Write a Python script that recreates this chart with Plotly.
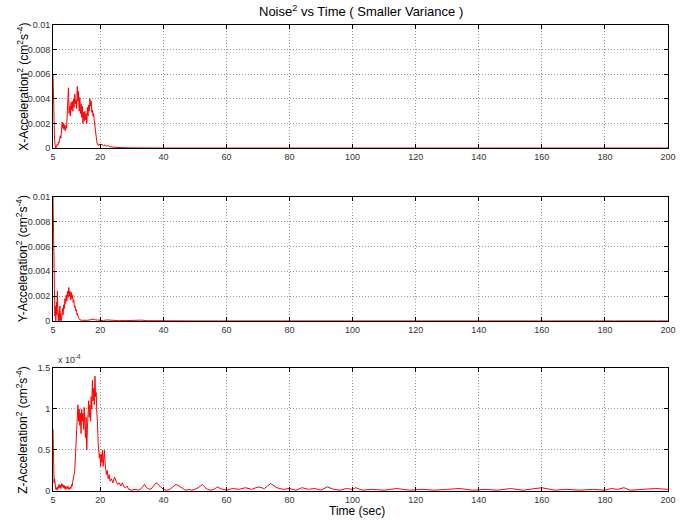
import plotly.graph_objects as go

# ---------------- data ----------------
# X-acceleration noise^2, values in units of 1e-3
x_time = [5.0, 5.1, 5.2, 5.35, 5.5, 5.7, 5.9, 6.1, 6.3, 6.5, 6.7, 6.9, 7.1, 7.3, 7.5, 7.7, 7.9,
          8.1, 8.3, 8.5, 8.7, 8.9, 9.1, 9.3, 9.5, 9.7, 9.9, 10.1, 10.3, 10.5, 10.7, 10.9,
          11.1, 11.3, 11.5, 11.7, 11.9, 12.1, 12.3, 12.5, 12.7, 12.9, 13.1, 13.3, 13.5,
          13.7, 13.9, 14.1, 14.3, 14.5, 14.7, 14.9, 15.1, 15.3, 15.5, 15.7, 15.9, 16.1,
          16.3, 16.5, 16.7, 16.9, 17.1, 17.3, 17.5, 17.7, 17.9, 18.1, 18.3, 18.5, 18.7,
          18.9, 19.1, 19.3, 19.5, 19.7, 20.0, 20.5, 21.0, 21.5, 22.0, 22.5, 23.0, 23.5,
          24.0, 25.0, 26.0, 28.0, 30.0, 35.0, 40.0, 200.0]
x_noise_e3 = [6.0, 4.5, 2.0, 1.2, 0.6, 0.2, 0.0, 0.1, 0.3, 0.2, 0.5, 0.4, 0.7, 1.0, 0.8, 1.4, 2.1,
              1.6, 2.0, 1.5, 1.9, 1.4, 1.8, 1.6, 2.6, 3.2, 4.9, 2.8, 3.4, 2.6, 3.7, 3.1,
              3.8, 3.0, 4.0, 3.3, 4.4, 3.6, 3.9, 3.2, 5.0, 3.8, 4.6, 3.0, 4.1,
              2.8, 3.6, 2.5, 3.4, 2.0, 2.9, 2.2, 3.0, 2.3, 2.8, 2.0, 3.3, 2.6,
              3.5, 3.0, 4.0, 3.4, 3.8, 2.9, 3.1, 2.6, 2.8, 2.2, 1.6, 1.2, 0.7,
              0.5, 0.3, 0.35, 0.2, 0.3, 0.25, 0.3, 0.2, 0.25, 0.15, 0.2, 0.1, 0.12,
              0.08, 0.05, 0.03, 0.02, 0.01, 0.005, 0.0, 0.0]

# Y-acceleration noise^2, values in units of 1e-3
y_time = [5.0, 5.05, 5.1, 5.15, 5.2, 5.3, 5.4, 5.5, 5.6, 5.7, 5.8, 5.9, 6.0, 6.1, 6.2, 6.3,
          6.4, 6.5, 6.6, 6.7, 6.8, 6.9, 7.0, 7.1, 7.2, 7.3, 7.4, 7.5, 7.6, 7.8, 8.0, 8.2,
          8.4, 8.6, 8.8, 9.0, 9.2, 9.4, 9.6, 9.8, 10.0, 10.2, 10.4, 10.6, 10.8, 11.0,
          11.2, 11.4, 11.6, 11.8, 12.0, 12.2, 12.4, 12.6, 12.8, 13.0, 13.2, 13.5, 14.0,
          15.0, 16.0, 17.0, 17.7, 18.5, 19.5, 21.0, 22.0, 24.0, 26.0, 28.0, 30.0, 32.0,
          33.0, 35.0, 40.0, 50.0, 200.0]
y_noise_e3 = [10.0, 9.0, 8.6, 6.0, 5.5, 3.0, 2.0, 1.0, 0.4, 1.2, 0.3, 0.0, 0.8, 1.5, 0.5, 2.2,
              2.4, 1.2, 0.4, 0.0, 0.6, 0.2, 0.0, 0.9, 1.2, 0.4, 0.1, 0.6, 0.0, 0.3, 1.0, 0.5,
              1.3, 1.0, 1.8, 1.4, 2.1, 1.6, 2.4, 1.9, 2.7, 2.0, 2.4, 1.7, 2.3, 1.8,
              2.1, 1.5, 1.7, 1.1, 1.2, 0.8, 0.9, 0.5, 0.6, 0.3, 0.2, 0.1, 0.05,
              0.03, 0.05, 0.1, 0.15, 0.08, 0.05, 0.03, 0.08, 0.04, 0.02, 0.03, 0.05, 0.1,
              0.06, 0.02, 0.01, 0.0, 0.0]

# Z-acceleration noise^2, values in units of 1e-4
z_time = [5.0, 5.1, 5.2, 5.35, 5.5, 5.7, 5.9, 6.1, 6.3, 6.5, 6.7, 6.9, 7.1, 7.3, 7.5, 7.7,
          7.9, 8.1, 8.3, 8.5, 8.7, 8.9, 9.1, 9.3, 9.5, 9.7, 9.9, 10.1, 10.3, 10.5, 10.7,
          10.9, 11.1, 11.3, 11.5, 11.7, 11.9, 12.1, 12.3, 12.5, 12.7, 12.9, 13.1, 13.3,
          13.5, 13.7, 13.9, 14.1, 14.3, 14.5, 14.7, 14.9, 15.1, 15.3, 15.5, 15.7, 15.9,
          16.1, 16.3, 16.5, 16.7, 16.9, 17.1, 17.3, 17.5, 17.7, 17.9, 18.1, 18.3, 18.5,
          18.7, 18.9, 19.1, 19.3, 19.5, 19.7, 19.9, 20.1, 20.3, 20.5, 20.7, 20.9, 21.1,
          21.3, 21.5, 21.7, 21.9, 22.2, 22.5, 22.8, 23.1, 23.5, 24.0, 24.5, 25.0, 25.5,
          26.0, 26.5, 27.0, 27.5, 28.0, 28.5, 29.0, 30, 31, 32, 33, 34, 34.5, 35, 36, 37,
          37.7, 38.3, 39, 40, 41, 42, 43, 44, 45, 46, 47, 48, 49, 50, 51, 52.4, 53, 54,
          55, 56, 57.2, 58, 59, 60, 62, 64, 66, 68, 70, 72, 74, 75, 76, 78, 80, 82, 84,
          86, 88, 90, 92, 94, 96, 98, 100, 101, 103, 106, 110, 114, 118, 122, 126, 130,
          134, 138, 142, 146, 150, 154, 158, 160, 164, 168, 172, 176, 180, 182, 184, 186,
          188, 192, 196, 200]
z_noise_e4 = [0.75, 0.5, 0.2, 0.1, 0.15, 0.05, 0.02, 0.04, 0.01, 0.05, 0.03, 0.08, 0.04, 0.07,
              0.03, 0.09, 0.05, 0.08, 0.04, 0.07, 0.03, 0.06, 0.02, 0.05, 0.03, 0.06, 0.02,
              0.04, 0.02, 0.05, 0.03, 0.08, 0.06, 0.12, 0.15, 0.2, 0.25, 0.45, 0.55, 0.75,
              0.95, 1.05, 0.85, 1.0, 0.8, 0.95, 0.7, 1.0, 0.85, 0.95, 0.75, 1.02, 0.8, 0.65,
              0.9, 0.5, 0.75, 0.95, 1.1, 0.9, 1.05, 0.85, 1.15, 1.0, 1.35, 1.1, 1.25, 1.05,
              1.4, 1.15, 1.2, 0.95, 0.85, 0.6, 0.5, 0.4, 0.45, 0.3, 0.45, 0.35, 0.5, 0.3,
              0.4, 0.5, 0.35, 0.3, 0.2, 0.25, 0.15, 0.2, 0.12, 0.15, 0.1, 0.17, 0.12, 0.08,
              0.1, 0.06, 0.1, 0.05, 0.04, 0.06, 0.02, 0.01, 0.02, 0.01, 0.03, 0.08, 0.05,
              0.03, 0.02, 0.06, 0.1, 0.08, 0.05, 0.02, 0.01, 0.02, 0.05, 0.08, 0.06, 0.03,
              0.01, 0.02, 0.01, 0.02, 0.04, 0.08, 0.05, 0.02, 0.01, 0.02, 0.05, 0.03, 0.02,
              0.01, 0.03, 0.02, 0.04, 0.02, 0.05, 0.03, 0.09, 0.07, 0.04, 0.02, 0.03, 0.01,
              0.04, 0.02, 0.03, 0.01, 0.05, 0.02, 0.01, 0.03, 0.02, 0.04, 0.01, 0.02, 0.01,
              0.03, 0.01, 0.02, 0.01, 0.02, 0.03, 0.01, 0.02, 0.01, 0.03, 0.01, 0.03, 0.04,
              0.01, 0.02, 0.01, 0.02, 0.01, 0.03, 0.02, 0.04, 0.01, 0.02, 0.03, 0.02]

x_tickvals = [5, 20, 40, 60, 80, 100, 120, 140, 160, 180, 200]
x_ticktext = ["5", "20", "40", "60", "80", "100", "120", "140", "160", "180", "200"]
y_tickvals_e3 = [0, 2, 4, 6, 8, 10]
y_ticktext = ["0", "0.002", "0.004", "0.006", "0.008", "0.01"]
z_tickvals = [0, 0.5, 1, 1.5]
z_ticktext = ["0", "0.5", "1", "1.5"]

title_text = "Noise<sup>2</sup> vs Time ( Smaller Variance )"
ylabels = ["X-Acceleration<sup>2</sup> (cm<sup>2</sup>s<sup>-4</sup>)",
           "Y-Acceleration<sup>2</sup> (cm<sup>2</sup>s<sup>-4</sup>)",
           "Z-Acceleration<sup>2</sup> (cm<sup>2</sup>s<sup>-4</sup>)"]
xlabel = "Time (sec)"

# ---------------- figure ----------------
FONT = "Liberation Sans, Arial, sans-serif"
fig = go.Figure()
series = [(x_time, x_noise_e3), (y_time, y_noise_e3), (z_time, z_noise_e4)]
for i, (t, v) in enumerate(series):
    suffix = "" if i == 0 else str(i + 1)
    fig.add_trace(go.Scatter(x=t, y=v, mode="lines", line=dict(color="#ff0000", width=1),
                             xaxis="x" + suffix, yaxis="y" + suffix, showlegend=False,
                             hoverinfo="skip"))

domains = [[0.736, 1.0], [0.365, 0.631], [0.0, 0.264]]
common_axis = dict(showline=True, linecolor="black", linewidth=1, mirror="ticks",
                   ticks="inside", ticklen=4, tickcolor="black",
                   showgrid=True, gridcolor="#9a9a9a", griddash="1px,2px", gridwidth=1,
                   zeroline=False, tickfont=dict(family=FONT, size=9, color="#333333"))
layout = dict(width=688, height=520, margin=dict(l=53, r=17, t=25, b=29),
              plot_bgcolor="white", paper_bgcolor="white", showlegend=False,
              font=dict(family=FONT))
for i in range(3):
    suffix = "" if i == 0 else str(i + 1)
    layout["xaxis" + suffix] = dict(common_axis, domain=[0, 1], range=[5, 200],
                                    tickmode="array", tickvals=x_tickvals,
                                    ticktext=x_ticktext, anchor="y" + suffix)
    if i < 2:
        yax = dict(common_axis, domain=domains[i], range=[0, 10], tickmode="array",
                   tickvals=y_tickvals_e3, ticktext=y_ticktext, anchor="x" + suffix)
    else:
        yax = dict(common_axis, domain=domains[i], range=[0, 1.5], tickmode="array",
                   tickvals=z_tickvals, ticktext=z_ticktext, anchor="x" + suffix)
    layout["yaxis" + suffix] = yax
fig.update_layout(**layout)

annotations = [
    dict(text=title_text, x=0.5, y=1.0, xref="paper", yref="paper", xanchor="center",
         yanchor="bottom", yshift=4, showarrow=False,
         font=dict(family=FONT, size=13, color="black")),
    dict(text=xlabel, x=0.495, y=0.0, xref="paper", yref="paper", xanchor="center",
         yanchor="top", yshift=-11, showarrow=False,
         font=dict(family=FONT, size=12, color="black")),
    dict(text="x 10<sup>-4</sup>", x=0.0, y=domains[2][1], xref="paper", yref="paper",
         xanchor="left", yanchor="bottom", xshift=3, yshift=1, showarrow=False,
         font=dict(family=FONT, size=9, color="#333333")),
]
for i, lab in enumerate(ylabels):
    annotations.append(dict(text=lab, textangle=-90, x=-0.05,
                            y=(domains[i][0] + domains[i][1]) / 2,
                            xref="paper", yref="paper", xanchor="center", yanchor="middle",
                            showarrow=False, font=dict(family=FONT, size=12, color="black")))
fig.update_layout(annotations=annotations)

fig.write_html("out.html")
